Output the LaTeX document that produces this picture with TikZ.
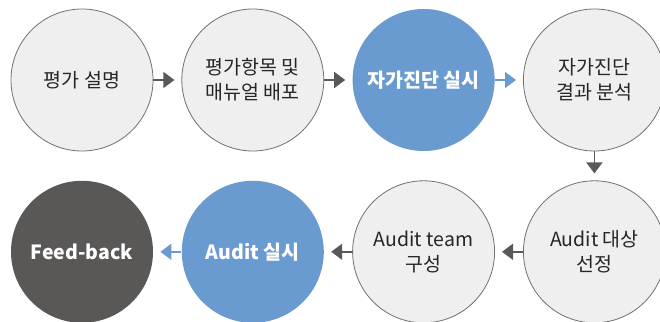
\documentclass[tikz,border=0pt]{standalone}
\usepackage{fontspec}
\setmainfont{Noto Sans CJK KR}
\usetikzlibrary{positioning, arrows.meta}
\definecolor{stepgray}{RGB}{239, 239, 239}
\definecolor{stepedge}{RGB}{112, 112, 112}
\definecolor{stepblue}{RGB}{106, 155, 208}
\definecolor{stepdark}{RGB}{90, 87, 87}
\definecolor{arrowgray}{RGB}{89, 89, 89}

\begin{document}
\begin{tikzpicture}[
    x=1pt, y=1pt,
    >={Triangle[width=16pt, length=11pt]},
    node distance=28pt,
    stepcircle/.style={circle, minimum size=142pt, inner sep=0pt, align=center,
        font=\fontsize{19.5}{25}\selectfont, line width=0.8pt},
    graycircle/.style={stepcircle, draw=stepedge, fill=stepgray, text=black!85},
    bluecircle/.style={stepcircle, fill=stepblue, text=white, font=\fontsize{19.5}{25}\selectfont\bfseries},
    darkcircle/.style={stepcircle, fill=stepdark, text=white, font=\fontsize{19.5}{25}\selectfont\bfseries},
    arrow/.style={->, line width=1.5pt, arrowgray},
    bluearrow/.style={->, line width=1.5pt, stepblue},
]
\useasboundingbox (0,0) rectangle (660,321);

% ===== 윗줄 =====
\node[graycircle] (explain) at (82,241) {평가 설명};
\node[graycircle, right=of explain] (handout) {평가항목 및\\매뉴얼 배포};
\node[bluecircle, right=of handout] (selfcheck) {자가진단 실시};
\node[graycircle, right=of selfcheck] (analysis) {자가진단\\결과 분석};

% ===== 아랫줄 =====
\node[graycircle, below=29pt of analysis] (target) {Audit 대상\\선정};
\node[graycircle, left=of target] (team) {Audit team\\구성};
\node[bluecircle, left=of team] (audit) {Audit 실시};
\node[darkcircle, left=of audit] (feedback) {Feed-back};

% ===== 화살표 =====
\draw[arrow] (explain.east) -- ([xshift=-7pt]handout.west);
\draw[arrow] (handout.east) -- ([xshift=-7pt]selfcheck.west);
\draw[bluearrow] (selfcheck.east) -- ([xshift=-7pt]analysis.west);
\draw[arrow] (analysis.south) -- ([yshift=7pt]target.north);
\draw[arrow] (target.west) -- ([xshift=7pt]team.east);
\draw[arrow] (team.west) -- ([xshift=7pt]audit.east);
\draw[bluearrow] (audit.west) -- ([xshift=7pt]feedback.east);

\end{tikzpicture}
\end{document}
